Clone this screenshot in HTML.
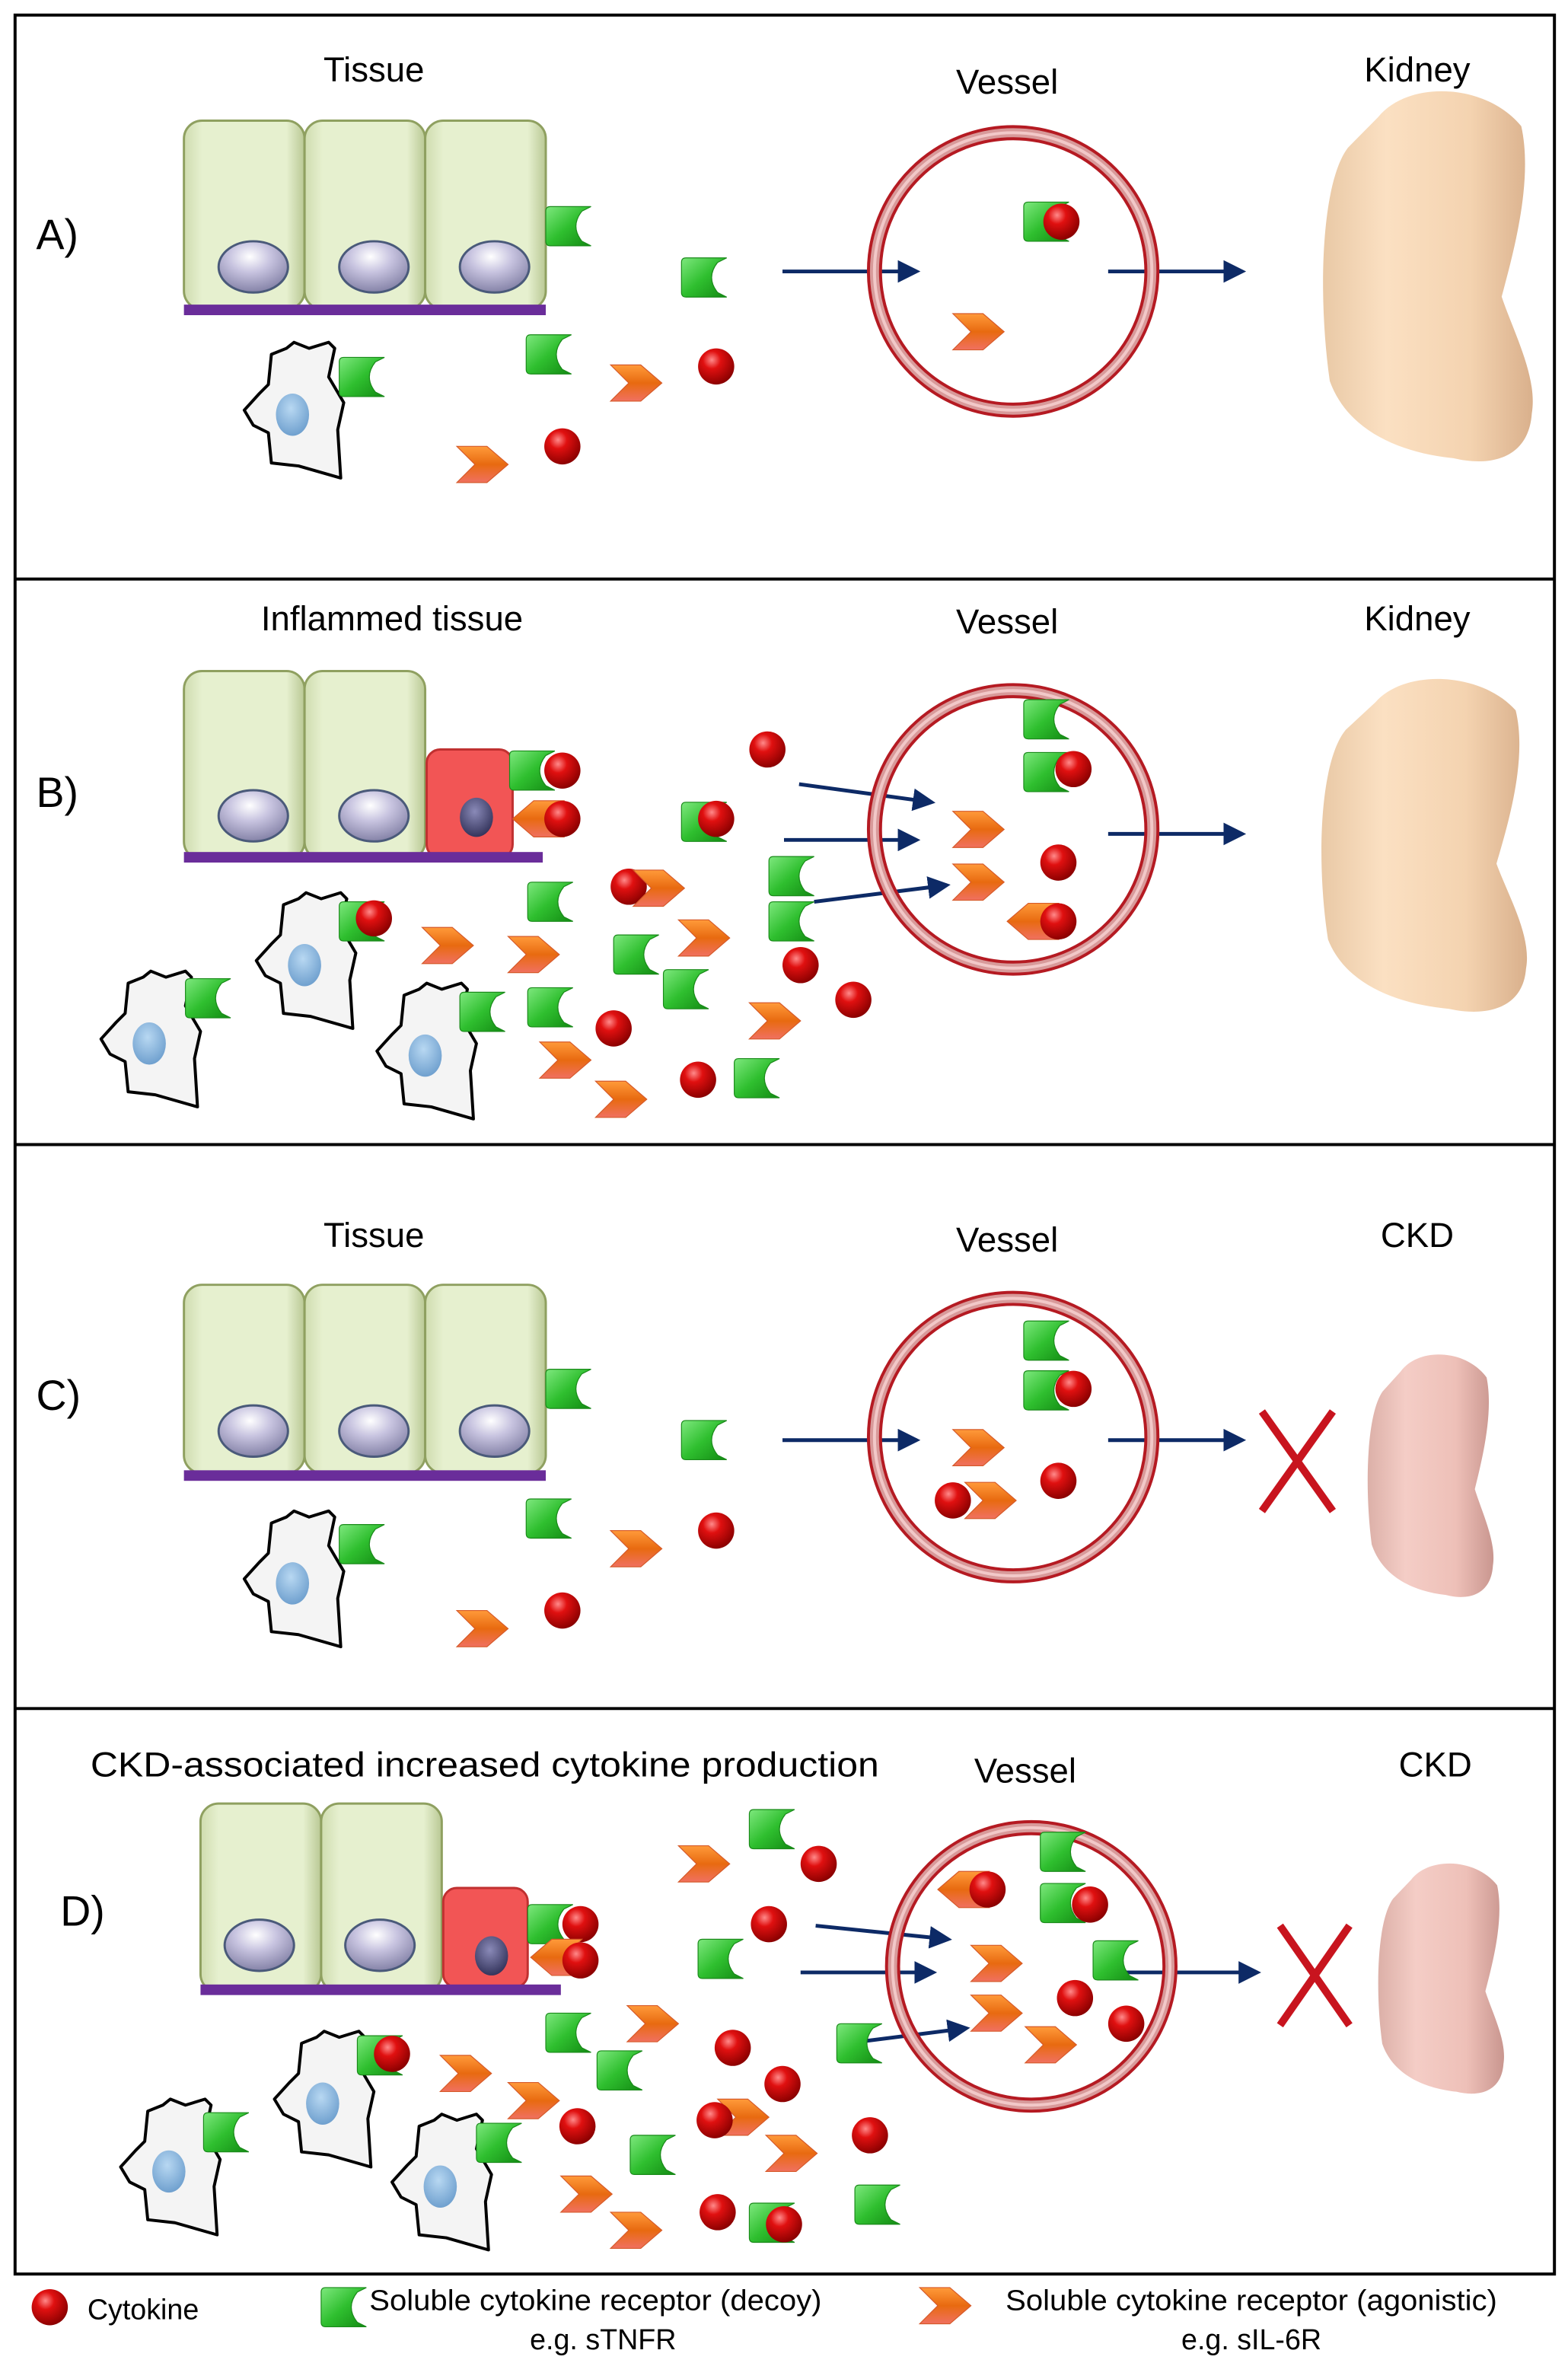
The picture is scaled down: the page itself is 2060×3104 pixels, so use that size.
<!DOCTYPE html>
<html><head><meta charset="utf-8"><style>
html,body{margin:0;padding:0;background:#fff}
svg{display:block}
text{font-family:"Liberation Sans",sans-serif;fill:#000}
</style></head><body>
<svg width="2060" height="3104" viewBox="0 0 1040 1567" preserveAspectRatio="none" xmlns="http://www.w3.org/2000/svg">
<defs>
<radialGradient id="gc" cx="0.38" cy="0.32" r="0.7"><stop offset="0" stop-color="#ff8a8a"/><stop offset="0.35" stop-color="#e01010"/><stop offset="1" stop-color="#8a0000"/></radialGradient>
<linearGradient id="gd" x1="0" y1="0" x2="1" y2="1"><stop offset="0" stop-color="#7ee87e"/><stop offset="0.5" stop-color="#2fbf2f"/><stop offset="1" stop-color="#138a13"/></linearGradient>
<linearGradient id="go" x1="0" y1="0" x2="0" y2="1"><stop offset="0" stop-color="#ff9a3a"/><stop offset="0.5" stop-color="#e86a10"/><stop offset="1" stop-color="#f07060"/></linearGradient>
<radialGradient id="gn" cx="0.45" cy="0.3" r="0.75"><stop offset="0" stop-color="#ffffff"/><stop offset="0.4" stop-color="#c8c4e0"/><stop offset="1" stop-color="#7c7aa0"/></radialGradient>
<radialGradient id="gdn" cx="0.45" cy="0.35" r="0.7"><stop offset="0" stop-color="#8a8ab8"/><stop offset="1" stop-color="#2e2e55"/></radialGradient>
<radialGradient id="gb" cx="0.45" cy="0.35" r="0.7"><stop offset="0" stop-color="#b8d8f2"/><stop offset="1" stop-color="#6a9ccc"/></radialGradient>
<linearGradient id="gk" x1="0" y1="0" x2="1" y2="0"><stop offset="0" stop-color="#e9c9a6"/><stop offset="0.3" stop-color="#fbe0c2"/><stop offset="0.7" stop-color="#f4d3b0"/><stop offset="1" stop-color="#d9b08c"/></linearGradient>
<linearGradient id="gp" x1="0" y1="0" x2="1" y2="0"><stop offset="0" stop-color="#dcb0a8"/><stop offset="0.3" stop-color="#f4cdc6"/><stop offset="0.7" stop-color="#eec0b8"/><stop offset="1" stop-color="#c9968f"/></linearGradient>
<linearGradient id="gcell" x1="0" y1="0" x2="1" y2="0"><stop offset="0" stop-color="#cfdcaf"/><stop offset="0.15" stop-color="#e6f0cf"/><stop offset="0.85" stop-color="#e6f0cf"/><stop offset="1" stop-color="#b9c894"/></linearGradient>
<marker id="ah" markerWidth="6" markerHeight="6" refX="5" refY="3" orient="auto" markerUnits="strokeWidth"><path d="M0,0 L6,3 L0,6 Z" fill="#0d2a66"/></marker>
<g id="cyt"><circle cx="0" cy="0" r="12" fill="url(#gc)"/></g>
<g id="decoy"><path d="M0,3 Q0,0 3,0 L30,0 L24,3 Q16,13 24,23 L30,26 L3,26 Q0,26 0,23 Z" fill="url(#gd)" stroke="#1a8a1a" stroke-width="0.6"/></g>
<g id="chev"><path d="M0,0 L20,0 L34,12 L20,24 L0,24 L12,12 Z" fill="url(#go)" stroke="#d65a2a" stroke-width="0.6"/></g>
<g id="chevL"><path d="M34,0 L14,0 L0,12 L14,24 L34,24 L22,12 Z" fill="url(#go)" stroke="#d65a2a" stroke-width="0.6"/></g>
<g id="cell"><rect x="0" y="0" width="80" height="125" rx="12" fill="url(#gcell)" stroke="#8fa060" stroke-width="1.5"/></g>
<g id="nuc"><ellipse cx="0" cy="0" rx="23" ry="17" fill="url(#gn)" stroke="#4a5a7a" stroke-width="1.5"/></g>
<g id="mac"><path d="M20,10 L30,6 L35,2 L45,6 L58,2 L62,6 L58,25 L68,42 L64,60 L66,92 L38,84 L20,82 L18,62 L8,57 L2,47 L12,36 L18,30 Z" fill="#f4f4f4" stroke="#000" stroke-width="2" stroke-linejoin="round"/><ellipse cx="34" cy="50" rx="11" ry="14" fill="url(#gb)"/></g>
<g id="ring"><circle cx="0" cy="0" r="92" fill="none" stroke="#b51a22" stroke-width="10"/><circle cx="0" cy="0" r="92" fill="none" stroke="#d89a9a" stroke-width="6"/><circle cx="0" cy="0" r="92" fill="none" stroke="#f2c8c8" stroke-width="2"/></g>
<path id="kid" d="M40,25 C60,4 112,6 135,30 C143,60 130,100 122,125 C130,145 146,170 142,190 C140,215 115,220 90,215 C55,212 20,200 8,172 C0,125 2,62 20,42 Z"/>
</defs>

<rect x="10" y="10" width="1021" height="1498" fill="none" stroke="#000" stroke-width="2"/>
<line x1="10" y1="384" x2="1031" y2="384" stroke="#000" stroke-width="2"/>
<line x1="10" y1="759" x2="1031" y2="759" stroke="#000" stroke-width="2"/>
<line x1="10" y1="1133" x2="1031" y2="1133" stroke="#000" stroke-width="2"/>

<g stroke="#0d2a66" stroke-width="2.5" fill="none" marker-end="url(#ah)">
<line x1="519" y1="180" x2="608" y2="180"/><line x1="735" y1="180" x2="824" y2="180"/>
<line x1="530" y1="520" x2="618" y2="532"/><line x1="520" y1="557" x2="608" y2="557"/><line x1="540" y1="598" x2="628" y2="587"/><line x1="735" y1="553" x2="824" y2="553"/>
<line x1="519" y1="955" x2="608" y2="955"/><line x1="735" y1="955" x2="824" y2="955"/>
<line x1="541" y1="1277" x2="629" y2="1286"/><line x1="531" y1="1308" x2="619" y2="1308"/><line x1="562" y1="1355" x2="641" y2="1345"/><line x1="747" y1="1308" x2="834" y2="1308"/>
</g>

<text x="24" y="165" font-size="28">A)</text>
<text x="248" y="54" font-size="23" text-anchor="middle">Tissue</text>
<text x="668" y="62" font-size="23" text-anchor="middle">Vessel</text>
<text x="940" y="54" font-size="23" text-anchor="middle">Kidney</text>
<use href="#cell" x="122" y="80"/><use href="#cell" x="202" y="80"/><use href="#cell" x="282" y="80"/>
<rect x="122" y="202" width="240" height="7" fill="#6a2d9a"/>
<use href="#nuc" x="168" y="177"/><use href="#nuc" x="248" y="177"/><use href="#nuc" x="328" y="177"/>
<use href="#mac" x="160" y="225"/>
<use href="#decoy" x="225" y="237"/><use href="#decoy" x="362" y="137"/><use href="#decoy" x="452" y="171"/><use href="#decoy" x="349" y="222"/>
<use href="#chev" x="405" y="242"/><use href="#chev" x="303" y="296"/>
<use href="#cyt" x="475" y="243"/><use href="#cyt" x="373" y="296"/>
<use href="#ring" x="672" y="180"/>
<use href="#decoy" x="679" y="134"/><use href="#cyt" x="704" y="147"/>
<use href="#chev" x="632" y="208"/>
<use href="#kid" fill="url(#gk)" transform="translate(874,48) scale(1.0,1.19)"/>

<text x="24" y="535" font-size="28">B)</text>
<text x="260" y="418" font-size="23" text-anchor="middle">Inflammed tissue</text>
<text x="668" y="420" font-size="23" text-anchor="middle">Vessel</text>
<text x="940" y="418" font-size="23" text-anchor="middle">Kidney</text>
<use href="#cell" x="122" y="445"/><use href="#cell" x="202" y="445"/>
<rect x="283" y="497" width="57" height="72" rx="9" fill="#f25555" stroke="#c03030" stroke-width="1.5"/>
<rect x="122" y="565" width="238" height="7" fill="#6a2d9a"/>
<use href="#nuc" x="168" y="541"/><use href="#nuc" x="248" y="541"/>
<ellipse cx="316" cy="542" rx="11" ry="13" fill="url(#gdn)"/>
<use href="#decoy" x="338" y="498"/><use href="#cyt" x="373" y="511"/>
<use href="#chevL" x="340" y="531"/><use href="#cyt" x="373" y="543"/>
<use href="#mac" x="65" y="642"/><use href="#decoy" x="123" y="649"/>
<use href="#mac" x="168" y="590"/><use href="#decoy" x="225" y="598"/><use href="#cyt" x="248" y="609"/>
<use href="#mac" x="248" y="650"/><use href="#decoy" x="305" y="658"/>
<use href="#cyt" x="509" y="497"/>
<use href="#decoy" x="452" y="532"/><use href="#cyt" x="475" y="543"/>
<use href="#decoy" x="510" y="568"/><use href="#decoy" x="510" y="598"/>
<use href="#cyt" x="417" y="588"/><use href="#chev" x="420" y="577"/>
<use href="#decoy" x="350" y="585"/>
<use href="#chev" x="280" y="615"/><use href="#chev" x="337" y="621"/>
<use href="#decoy" x="407" y="620"/><use href="#chev" x="450" y="610"/>
<use href="#decoy" x="440" y="643"/>
<use href="#cyt" x="531" y="640"/><use href="#cyt" x="566" y="663"/>
<use href="#chev" x="497" y="665"/>
<use href="#decoy" x="350" y="655"/>
<use href="#cyt" x="407" y="682"/>
<use href="#chev" x="358" y="691"/><use href="#chev" x="395" y="717"/>
<use href="#cyt" x="463" y="716"/>
<use href="#decoy" x="487" y="702"/>
<use href="#ring" x="672" y="550"/>
<use href="#decoy" x="679" y="464"/>
<use href="#decoy" x="679" y="499"/><use href="#cyt" x="712" y="510"/>
<use href="#chev" x="632" y="538"/><use href="#chev" x="632" y="573"/>
<use href="#cyt" x="702" y="572"/>
<use href="#chevL" x="668" y="599"/><use href="#cyt" x="702" y="611"/>
<use href="#kid" fill="url(#gk)" transform="translate(873,439) scale(0.98,1.07)"/>

<text x="24" y="935" font-size="28">C)</text>
<text x="248" y="827" font-size="23" text-anchor="middle">Tissue</text>
<text x="668" y="830" font-size="23" text-anchor="middle">Vessel</text>
<text x="940" y="827" font-size="23" text-anchor="middle">CKD</text>
<use href="#cell" x="122" y="852"/><use href="#cell" x="202" y="852"/><use href="#cell" x="282" y="852"/>
<rect x="122" y="975" width="240" height="7" fill="#6a2d9a"/>
<use href="#nuc" x="168" y="949"/><use href="#nuc" x="248" y="949"/><use href="#nuc" x="328" y="949"/>
<use href="#mac" x="160" y="1000"/>
<use href="#decoy" x="225" y="1011"/><use href="#decoy" x="362" y="908"/><use href="#decoy" x="452" y="942"/><use href="#decoy" x="349" y="994"/>
<use href="#chev" x="405" y="1015"/><use href="#chev" x="303" y="1068"/>
<use href="#cyt" x="475" y="1015"/><use href="#cyt" x="373" y="1068"/>
<use href="#ring" x="672" y="953"/>
<use href="#decoy" x="679" y="876"/>
<use href="#decoy" x="679" y="909"/><use href="#cyt" x="712" y="921"/>
<use href="#chev" x="632" y="948"/>
<use href="#chev" x="640" y="983"/><use href="#cyt" x="632" y="995"/>
<use href="#cyt" x="702" y="982"/>
<g stroke="#c8141e" stroke-width="5"><line x1="837" y1="936" x2="884" y2="1002"/><line x1="884" y1="936" x2="837" y2="1002"/></g>
<use href="#kid" fill="url(#gp)" transform="translate(905,890) scale(0.6,0.78)"/>

<text x="40" y="1277" font-size="28">D)</text>
<text x="60" y="1178" font-size="23" textLength="523" lengthAdjust="spacingAndGlyphs">CKD-associated increased cytokine production</text>
<text x="680" y="1182" font-size="23" text-anchor="middle">Vessel</text>
<text x="952" y="1178" font-size="23" text-anchor="middle">CKD</text>
<use href="#cell" x="133" y="1196"/><use href="#cell" x="213" y="1196"/>
<rect x="294" y="1252" width="56" height="66" rx="9" fill="#f25555" stroke="#c03030" stroke-width="1.5"/>
<rect x="133" y="1316" width="239" height="7" fill="#6a2d9a"/>
<use href="#nuc" x="172" y="1290"/><use href="#nuc" x="252" y="1290"/>
<ellipse cx="326" cy="1297" rx="11" ry="13" fill="url(#gdn)"/>
<use href="#decoy" x="350" y="1263"/><use href="#cyt" x="385" y="1276"/>
<use href="#chevL" x="352" y="1286"/><use href="#cyt" x="385" y="1300"/>
<use href="#mac" x="78" y="1390"/><use href="#decoy" x="135" y="1401"/>
<use href="#mac" x="180" y="1345"/><use href="#decoy" x="237" y="1350"/><use href="#cyt" x="260" y="1362"/>
<use href="#mac" x="258" y="1400"/><use href="#decoy" x="316" y="1408"/>
<use href="#chev" x="450" y="1224"/><use href="#decoy" x="497" y="1200"/>
<use href="#cyt" x="543" y="1236"/><use href="#cyt" x="510" y="1276"/>
<use href="#decoy" x="463" y="1286"/>
<use href="#chev" x="416" y="1330"/>
<use href="#decoy" x="362" y="1335"/><use href="#decoy" x="396" y="1360"/>
<use href="#cyt" x="486" y="1358"/>
<use href="#chev" x="292" y="1363"/><use href="#chev" x="337" y="1381"/>
<use href="#cyt" x="519" y="1382"/>
<use href="#decoy" x="555" y="1342"/>
<use href="#cyt" x="383" y="1410"/>
<use href="#chev" x="476" y="1392"/><use href="#cyt" x="474" y="1406"/>
<use href="#chev" x="508" y="1416"/>
<use href="#decoy" x="418" y="1416"/>
<use href="#cyt" x="577" y="1416"/>
<use href="#chev" x="372" y="1443"/><use href="#chev" x="405" y="1467"/>
<use href="#cyt" x="476" y="1467"/>
<use href="#decoy" x="497" y="1461"/><use href="#cyt" x="520" y="1475"/>
<use href="#decoy" x="567" y="1449"/>
<use href="#ring" x="684" y="1304"/>
<use href="#decoy" x="690" y="1215"/>
<use href="#chevL" x="622" y="1241"/><use href="#cyt" x="655" y="1253"/>
<use href="#decoy" x="690" y="1249"/><use href="#cyt" x="723" y="1263"/>
<use href="#chev" x="644" y="1290"/>
<use href="#decoy" x="725" y="1287"/>
<use href="#cyt" x="713" y="1325"/>
<use href="#chev" x="644" y="1323"/>
<use href="#cyt" x="747" y="1342"/>
<use href="#chev" x="680" y="1344"/>
<g stroke="#c8141e" stroke-width="5"><line x1="849" y1="1277" x2="895" y2="1343"/><line x1="895" y1="1277" x2="849" y2="1343"/></g>
<use href="#kid" fill="url(#gp)" transform="translate(912,1228) scale(0.6,0.74)"/>

<use href="#cyt" x="33" y="1530"/>
<text x="58" y="1538" font-size="19">Cytokine</text>
<use href="#decoy" x="213" y="1517"/>
<text x="245" y="1532" font-size="19" textLength="300" lengthAdjust="spacingAndGlyphs">Soluble cytokine receptor (decoy)</text>
<text x="400" y="1558" font-size="19" text-anchor="middle">e.g. sTNFR</text>
<use href="#chev" x="610" y="1517"/>
<text x="667" y="1532" font-size="19" textLength="326" lengthAdjust="spacingAndGlyphs">Soluble cytokine receptor (agonistic)</text>
<text x="830" y="1558" font-size="19" text-anchor="middle">e.g. sIL-6R</text>
</svg>
</body></html>
